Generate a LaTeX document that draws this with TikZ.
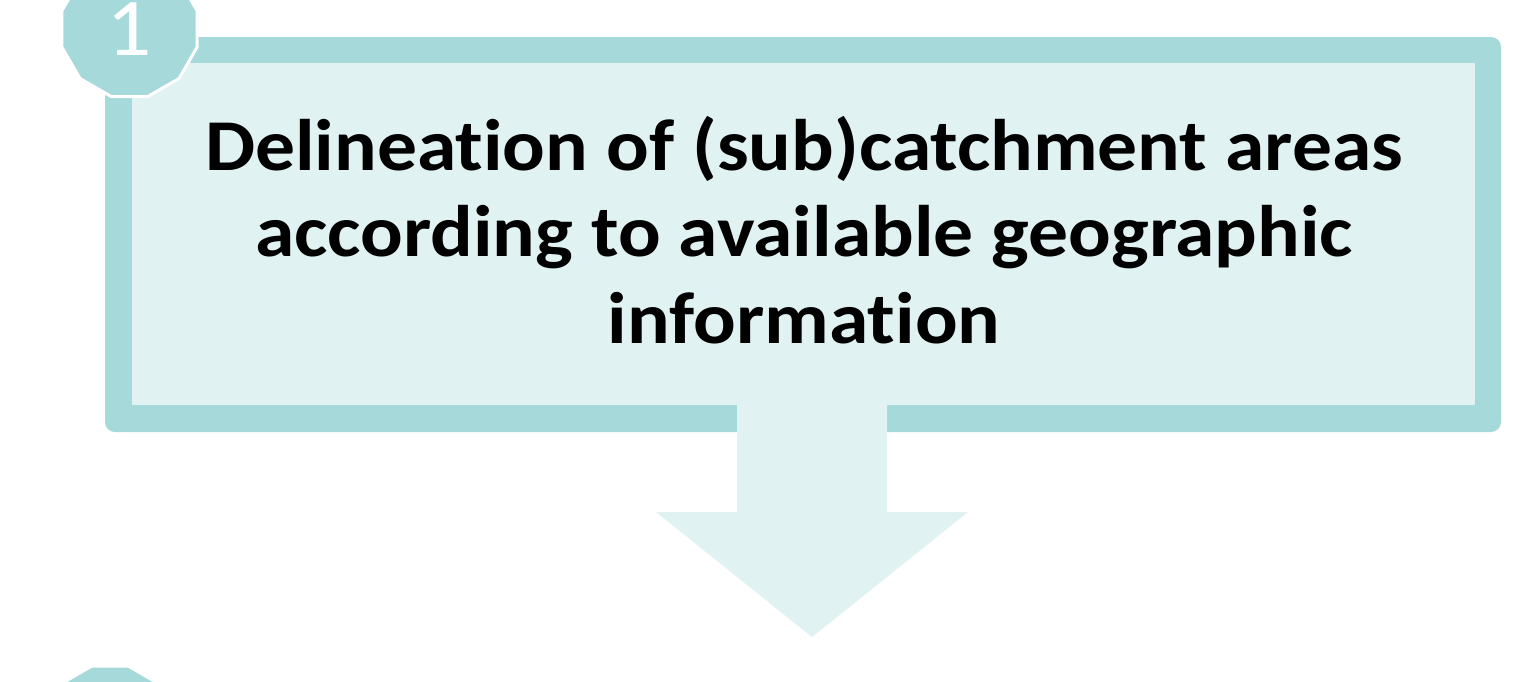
\documentclass[tikz,border=0pt]{standalone}
\usepackage{fontspec}
\setmainfont[Ligatures=NoCommon]{Carlito}
\newfontfamily\widefont[Ligatures=NoCommon,FakeStretch=1.09]{Carlito}
\usetikzlibrary{shapes.geometric}
\definecolor{bordercol}{RGB}{165,217,218}
\definecolor{fillcol}{RGB}{224,242,242}
\tikzset{
  boxouter/.style={rectangle, fill=bordercol, rounded corners=5pt, inner sep=0pt, outer sep=0pt},
  boxinner/.style={fill=fillcol},
  badge/.style={regular polygon, regular polygon sides=12, fill=bordercol, draw=white, line width=1.5pt, inner sep=0pt, minimum size=70pt, text=white, font=\widefont\fontsize{41pt}{41pt}\selectfont},
  maintext/.style={align=center, font=\widefont\bfseries\fontsize{36.5pt}{43.25pt}\selectfont, text=black, inner sep=0pt},
  flowarrow/.style={fill=fillcol}
}
\begin{document}
\begin{tikzpicture}[x=0.5pt,y=-0.5pt]
\useasboundingbox (0,0) rectangle (1513,681);
\fill[white] (0,0) rectangle (1513,681);
% box
\node[boxouter, minimum width=698pt, minimum height=197.5pt] (box) at (803,234.5) {};
\fill[boxinner] (132,63) rectangle (1475,405);
% arrow
\fill[flowarrow] (737,404) -- (737,512) -- (656,512) -- (812,637) -- (968,512) -- (887,512) -- (887,404) -- cycle;
% text
\node[maintext, anchor=base] (txt) at (804,343) {Delineation of (sub)catchment areas\\according to available geographic\\information};
% badges
\node[badge] (b1) at (129.5,29) {1};
\node[badge] (b2) at (110,733.6) {};
\end{tikzpicture}
\end{document}
